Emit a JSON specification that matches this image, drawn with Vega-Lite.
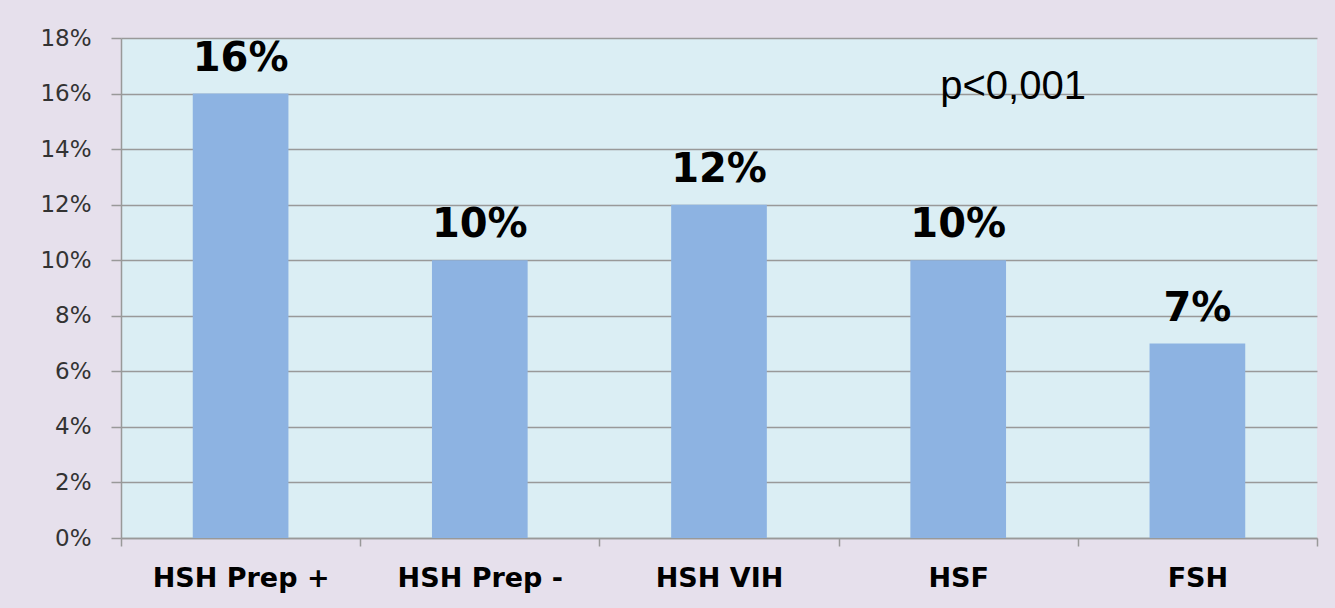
{
  "$schema": "https://vega.github.io/schema/vega-lite/v6.json",
  "width": 1196,
  "height": 500,
  "autosize": {"type": "none"},
  "padding": {"left": 121, "top": 38, "right": 18, "bottom": 70},
  "background": "#e6e0ec",
  "config": {
    "view": {"fill": "#dbeef4", "stroke": null}
  },
  "data": {
    "values": [
      {"group": "HSH Prep +", "value": 0.16},
      {"group": "HSH Prep -", "value": 0.10},
      {"group": "HSH VIH", "value": 0.12},
      {"group": "HSF", "value": 0.10},
      {"group": "FSH", "value": 0.07}
    ]
  },
  "layer": [
    {
      "mark": {"type": "bar", "color": "#8db3e2", "width": {"band": 0.4}},
      "encoding": {
        "x": {
          "field": "group",
          "type": "nominal",
          "sort": null,
          "title": null,
          "scale": {"paddingInner": 0, "paddingOuter": 0},
          "axis": {
            "labelAngle": 0,
            "labelFont": "DejaVu Sans",
            "labelFontSize": 27,
            "labelFontWeight": "bold",
            "labelColor": "#000000",
            "labelPadding": 19,
            "tickBand": "extent",
            "tickSize": 8,
            "tickColor": "#999999",
            "tickWidth": 1.5,
            "domainColor": "#999999",
            "domainWidth": 1.5,
            "grid": false
          }
        },
        "y": {
          "field": "value",
          "type": "quantitative",
          "title": null,
          "scale": {"domain": [0, 0.18], "nice": false},
          "axis": {
            "values": [0, 0.02, 0.04, 0.06, 0.08, 0.1, 0.12, 0.14, 0.16, 0.18],
            "format": ".0%",
            "labelFont": "DejaVu Sans",
            "labelFontSize": 23,
            "labelColor": "#333333",
            "labelPadding": 20,
            "tickSize": 10,
            "tickColor": "#999999",
            "tickWidth": 1.5,
            "domainColor": "#999999",
            "domainWidth": 1.5,
            "grid": true,
            "gridColor": "#999999",
            "gridWidth": 1.5
          }
        }
      }
    },
    {
      "mark": {"type": "text", "font": "DejaVu Sans", "fontSize": 40, "fontWeight": "bold", "color": "#000000", "baseline": "alphabetic", "dy": -23},
      "encoding": {
        "x": {"field": "group", "type": "nominal", "sort": null},
        "y": {"field": "value", "type": "quantitative"},
        "text": {"field": "value", "type": "quantitative", "format": ".0%"}
      }
    },
    {
      "data": {"values": [{"group": "HSF", "value": 0.158, "label": "p<0,001"}]},
      "mark": {"type": "text", "font": "Liberation Sans", "fontSize": 40, "color": "#000000", "align": "left", "baseline": "alphabetic", "dx": -18},
      "encoding": {
        "x": {"field": "group", "type": "nominal", "sort": null},
        "y": {"field": "value", "type": "quantitative"},
        "text": {"field": "label", "type": "nominal"}
      }
    }
  ]
}
